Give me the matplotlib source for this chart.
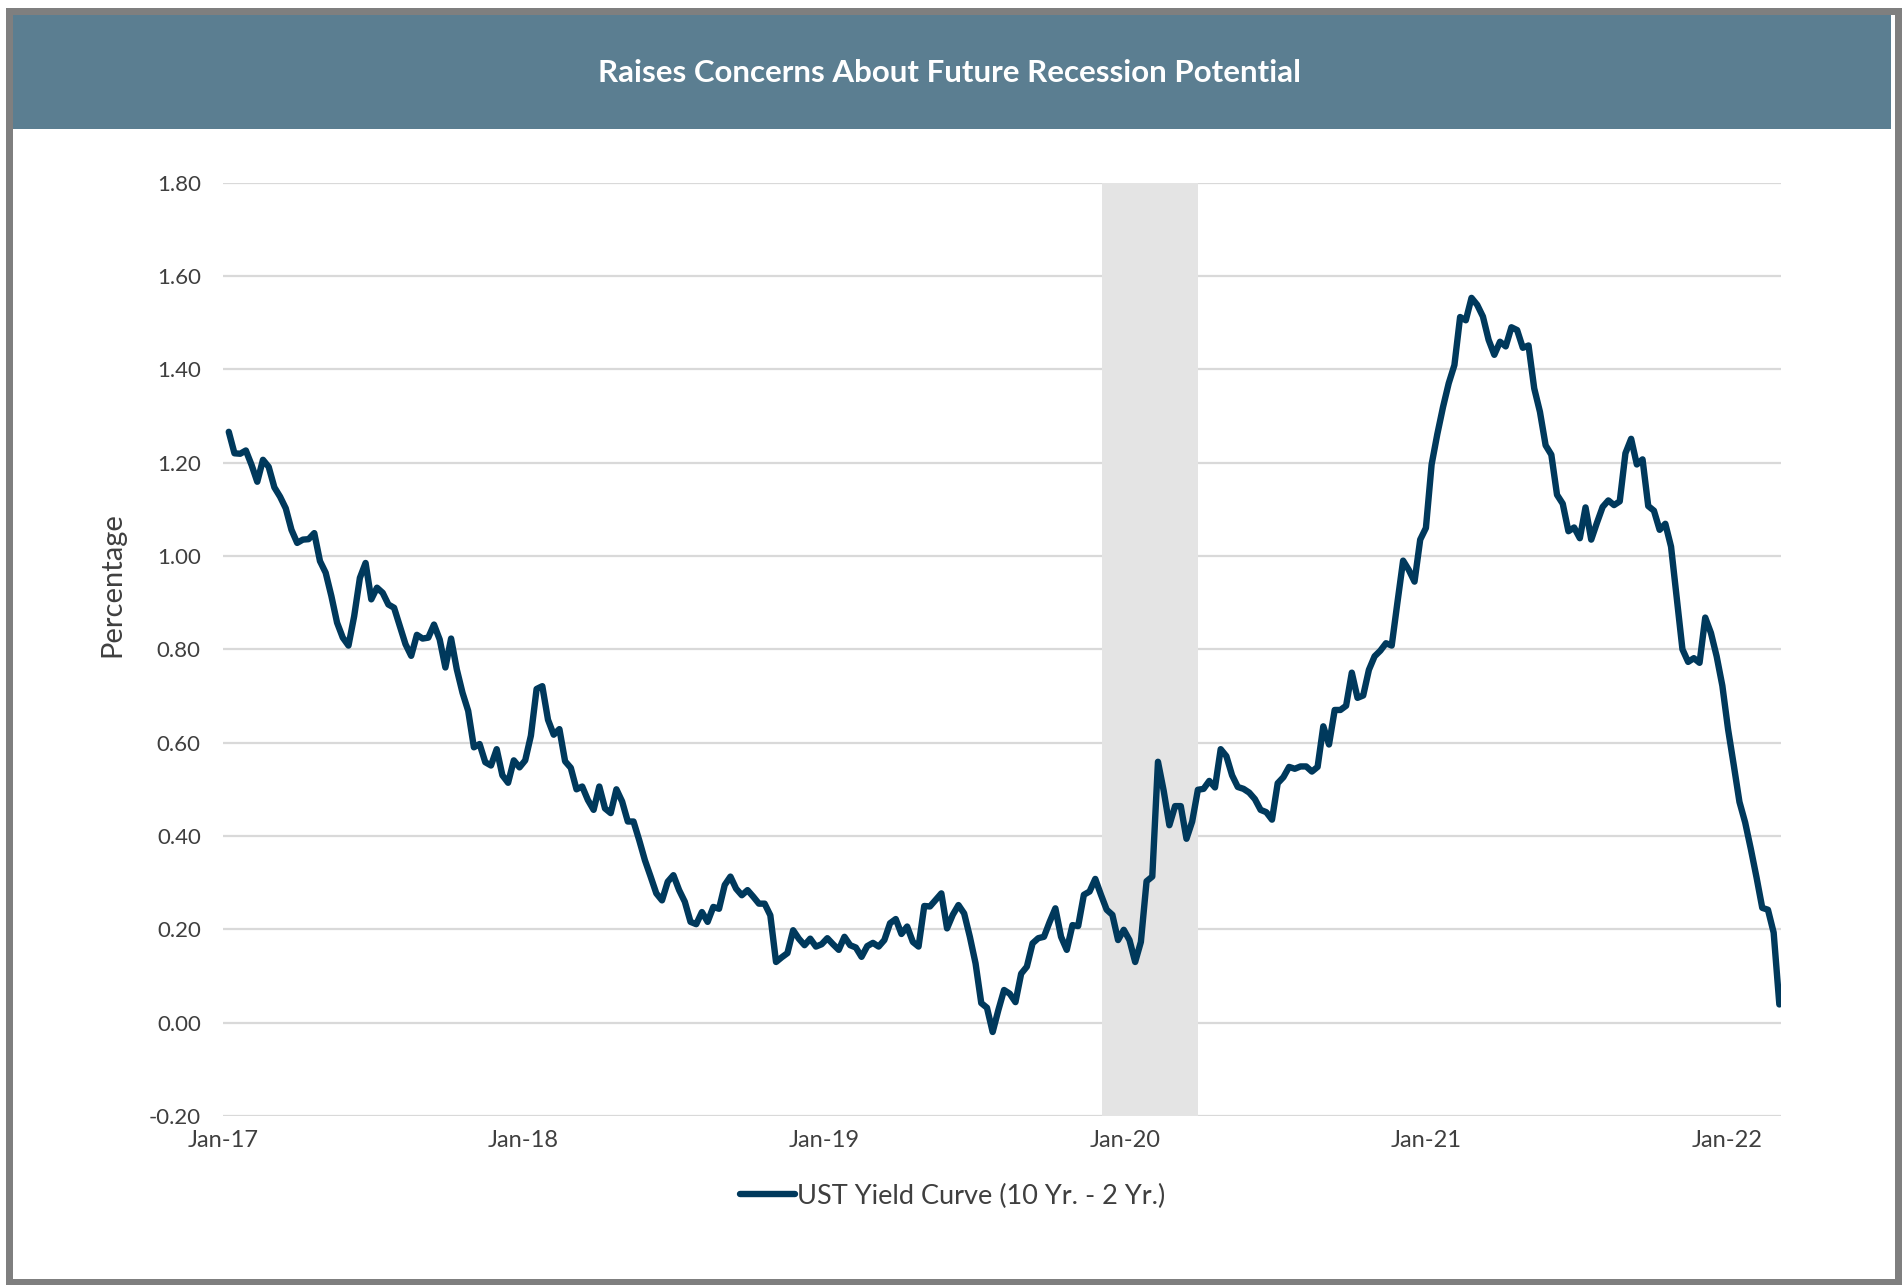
import matplotlib
matplotlib.use("Agg")
import matplotlib.pyplot as plt
import matplotlib.dates as mdates
from matplotlib.patches import Rectangle
import pandas as pd

plt.rcParams['font.family'] = ['Lato', 'DejaVu Sans']

TITLE = "Raises Concerns About Future Recession Potential"
SERIES_NAME = "UST Yield Curve (10 Yr. - 2 Yr.)"

# weekly 10yr - 2yr treasury spread, percentage points
spread_2017 = [
    1.266, 1.220, 1.219, 1.226, 1.195, 1.159, 1.206, 1.191, 1.147, 1.127,
    1.102, 1.056, 1.028, 1.035, 1.036, 1.049, 0.989, 0.964, 0.914, 0.857,
    0.825, 0.808, 0.871, 0.953, 0.985, 0.907, 0.932, 0.921, 0.896, 0.889,
    0.850, 0.811, 0.786, 0.831, 0.823, 0.825, 0.853, 0.821, 0.761, 0.823,
    0.757, 0.707, 0.668, 0.590, 0.597, 0.558, 0.551, 0.586, 0.530, 0.514,
    0.562, 0.547, 0.562, 0.615, 0.715,
]
spread_2018 = [
    0.721, 0.649, 0.617, 0.629, 0.560, 0.546, 0.500, 0.506, 0.477, 0.456,
    0.506, 0.459, 0.449, 0.500, 0.474, 0.431, 0.431, 0.391, 0.348, 0.313,
    0.277, 0.262, 0.302, 0.316, 0.284, 0.259, 0.216, 0.211, 0.237, 0.216,
    0.248, 0.244, 0.295, 0.313, 0.287, 0.273, 0.284, 0.270, 0.255, 0.255,
    0.230, 0.130, 0.140, 0.149, 0.198, 0.180, 0.166, 0.180, 0.163, 0.168,
    0.181, 0.168, 0.156,
]
spread_2019 = [
    0.184, 0.166, 0.161, 0.141, 0.164, 0.171, 0.163, 0.177, 0.213, 0.222,
    0.190, 0.206, 0.173, 0.163, 0.250, 0.249, 0.263, 0.277, 0.202, 0.231,
    0.252, 0.234, 0.184, 0.127, 0.042, 0.032, -0.020, 0.027, 0.070, 0.062,
    0.044, 0.105, 0.120, 0.170, 0.181, 0.184, 0.216, 0.245, 0.184, 0.156,
    0.209, 0.207, 0.274, 0.281, 0.308, 0.274, 0.242, 0.231, 0.177, 0.199,
    0.177, 0.130, 0.173, 0.303, 0.313,
]
spread_2020 = [
    0.559, 0.497, 0.423, 0.464, 0.464, 0.394, 0.431, 0.499, 0.501, 0.518,
    0.504, 0.586, 0.571, 0.530, 0.505, 0.501, 0.493, 0.479, 0.456, 0.451,
    0.435, 0.513, 0.526, 0.548, 0.544, 0.549, 0.549, 0.538, 0.548, 0.635,
    0.596, 0.670, 0.670, 0.679, 0.750, 0.696, 0.701, 0.756, 0.785, 0.797,
    0.813, 0.808, 0.900, 0.990, 0.970, 0.945, 1.035, 1.060, 1.196, 1.261,
    1.319, 1.370, 1.409, 1.512, 1.505, 1.553,
]
spread_2021 = [
    1.538, 1.513, 1.463, 1.431, 1.459, 1.449, 1.490, 1.484, 1.446, 1.451,
    1.359, 1.309, 1.237, 1.217, 1.131, 1.112, 1.053, 1.061, 1.038, 1.104,
    1.035, 1.071, 1.105, 1.119, 1.109, 1.117, 1.220, 1.251, 1.196, 1.207,
    1.107, 1.097, 1.056, 1.069, 1.020, 0.910, 0.800, 0.773, 0.781, 0.771,
    0.868, 0.835, 0.785, 0.722, 0.629, 0.552, 0.473, 0.429, 0.372, 0.311,
    0.246, 0.242, 0.193, 0.039,
]
spread = spread_2017 + spread_2018 + spread_2019 + spread_2020 + spread_2021
dates = pd.date_range("2017-01-08", "2022-03-06", periods=len(spread))

# recession shading
recession_start = pd.Timestamp("2019-12-05")
recession_end = pd.Timestamp("2020-03-30")

yticks = [-0.2, 0.0, 0.2, 0.4, 0.6, 0.8, 1.0, 1.2, 1.4, 1.6, 1.8]
xticks = pd.to_datetime(["2017-01-01", "2018-01-01", "2019-01-01",
                         "2020-01-01", "2021-01-01", "2022-01-01"])

LINE_COLOR = "#00395c"
HEADER_COLOR = "#5b7e91"
TEXT_COLOR = "#3f3f3f"

W, H = 1902, 1285
fig = plt.figure(figsize=(W / 100, H / 100), dpi=100)


def fig_rect(x0, y0, x1, y1, **kw):
    """ Rectangle given in pixel coords measured from the top-left corner """
    r = Rectangle((x0 / W, 1 - y1 / H), (x1 - x0) / W, (y1 - y0) / H,
                  transform=fig.transFigure, **kw)
    fig.add_artist(r)
    return r


# frame and header band
fig_rect(6, 8, 1902, 1285, facecolor="#7f7f7f", edgecolor="none", zorder=0)
fig_rect(13, 15, 1895, 1279, facecolor="white", edgecolor="none", zorder=0)
fig_rect(13, 15, 1891, 129, facecolor=HEADER_COLOR, edgecolor="none", zorder=1)
fig.text(950 / W, 1 - 73 / H, TITLE, color="white", fontsize=22.5,
         fontweight="bold", ha="center", va="center")

ax = fig.add_axes([223 / W, 1 - 1116 / H, (1781 - 223) / W, (1116 - 182.6) / H])
ax.set_facecolor("none")

ax.axvspan(recession_start, recession_end, color="#e4e4e4", zorder=2, lw=0)
ax.plot(dates, spread, color=LINE_COLOR, lw=4.6, zorder=3,
        solid_joinstyle="round", solid_capstyle="round", label=SERIES_NAME)

ax.set_ylim(-0.2, 1.8)
ax.set_yticks(yticks)
ax.set_yticklabels([f"{v:.2f}" for v in yticks])
ax.set_xlim(pd.Timestamp("2017-01-01"), pd.Timestamp("2022-03-08"))
ax.set_xticks(xticks)
ax.xaxis.set_major_formatter(mdates.DateFormatter("%b-%y"))

ax.grid(axis="y", color="#d9d9d9", lw=1.6, zorder=1)
ax.set_axisbelow(True)
for s in ax.spines.values():
    s.set_visible(False)
ax.tick_params(axis="both", length=0, labelcolor=TEXT_COLOR)
ax.tick_params(axis="y", pad=16, labelsize=16)
ax.tick_params(axis="x", pad=10, labelsize=17)

fig.text(112 / W, 1 - 585 / H, "Percentage", rotation=90, fontsize=21,
         color=TEXT_COLOR, ha="center", va="center")

ax.legend(loc="center", bbox_to_anchor=(953 / W, 1 - 1196 / H),
          bbox_transform=fig.transFigure, frameon=False, fontsize=19.5,
          handlelength=2.0, handletextpad=0.1, labelcolor=TEXT_COLOR)

fig.savefig("out.png", dpi=100)
